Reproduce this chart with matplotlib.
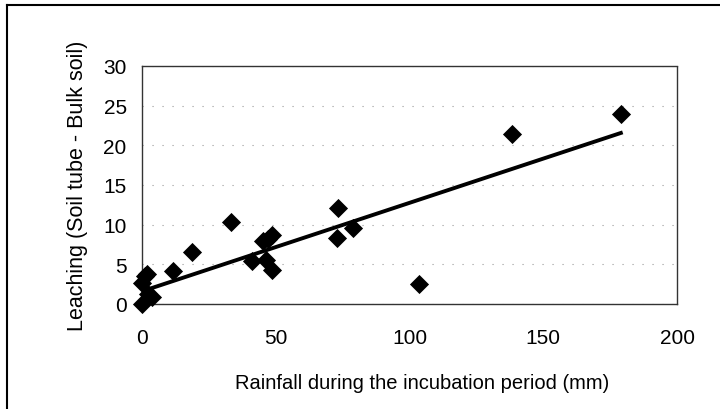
import matplotlib
matplotlib.use("Agg")
import matplotlib.pyplot as plt
from matplotlib.lines import Line2D

# Data
rainfall = [0, 0, 1, 2, 2.2, 3.7, 11.6, 18.7, 33.3, 41, 45.3, 46.4, 47, 48.6, 48.6,
            73.3, 72.9, 78.9, 103.6, 138.3, 179]
leaching = [0, 2.7, 3.5, 3.8, 1.3, 0.9, 4.2, 6.6, 10.3, 5.4, 7.9, 5.5, 8.2, 8.7, 4.3,
            12.1, 8.3, 9.6, 2.5, 21.4, 24.0]
trend_x = [0, 179]
trend_slope = 0.1115
trend_intercept = 1.6
x_ticks = [0, 50, 100, 150, 200]
y_ticks = [0, 5, 10, 15, 20, 25, 30]
x_label = "Rainfall during the incubation period (mm)"
y_label = "Leaching (Soil tube - Bulk soil)"

plt.rcParams['font.family'] = ['Liberation Sans', 'DejaVu Sans']

fig = plt.figure(figsize=(7.2, 4.1), dpi=100)
ax = fig.add_axes([0.1972, 0.2561, 0.9403 - 0.1972, 0.8366 - 0.2561])

ax.scatter(rainfall, leaching, marker='D', s=95, color='black', zorder=3,
           linewidths=0, clip_on=False)
trend_y = [trend_intercept + trend_slope * x for x in trend_x]
ax.plot(trend_x, trend_y, color='black', linewidth=2.8, zorder=2)

ax.set_xlim(0, 200)
ax.set_ylim(0, 30)
ax.set_xticks(x_ticks)
ax.set_yticks(y_ticks)
ax.tick_params(length=0, labelsize=15)
ax.tick_params(axis='y', pad=11)
ax.tick_params(axis='x', pad=17)
for s in ax.spines.values():
    s.set_color('#333333')
    s.set_linewidth(1.0)
ax.spines['top'].set_linestyle((0, (2, 1)))
ax.spines['right'].set_linestyle((0, (3, 1)))
ax.yaxis.grid(True, color='#999999', linestyle=(0, (1, 8)), linewidth=0.8)
ax.set_axisbelow(True)

ax.set_xlabel(x_label, fontsize=14.5, labelpad=19)
ax.xaxis.label.set_x(0.523)
ax.set_ylabel(y_label, fontsize=15.5, labelpad=11)

# Outer frame (top and left only visible)
fig.add_artist(Line2D([7 / 720, 1.0], [1 - 6 / 410, 1 - 6 / 410], transform=fig.transFigure,
                      color='black', linewidth=1.5))
fig.add_artist(Line2D([7 / 720, 7 / 720], [0, 1 - 6 / 410], transform=fig.transFigure,
                      color='black', linewidth=1.5))

fig.savefig("out.png", dpi=100)
